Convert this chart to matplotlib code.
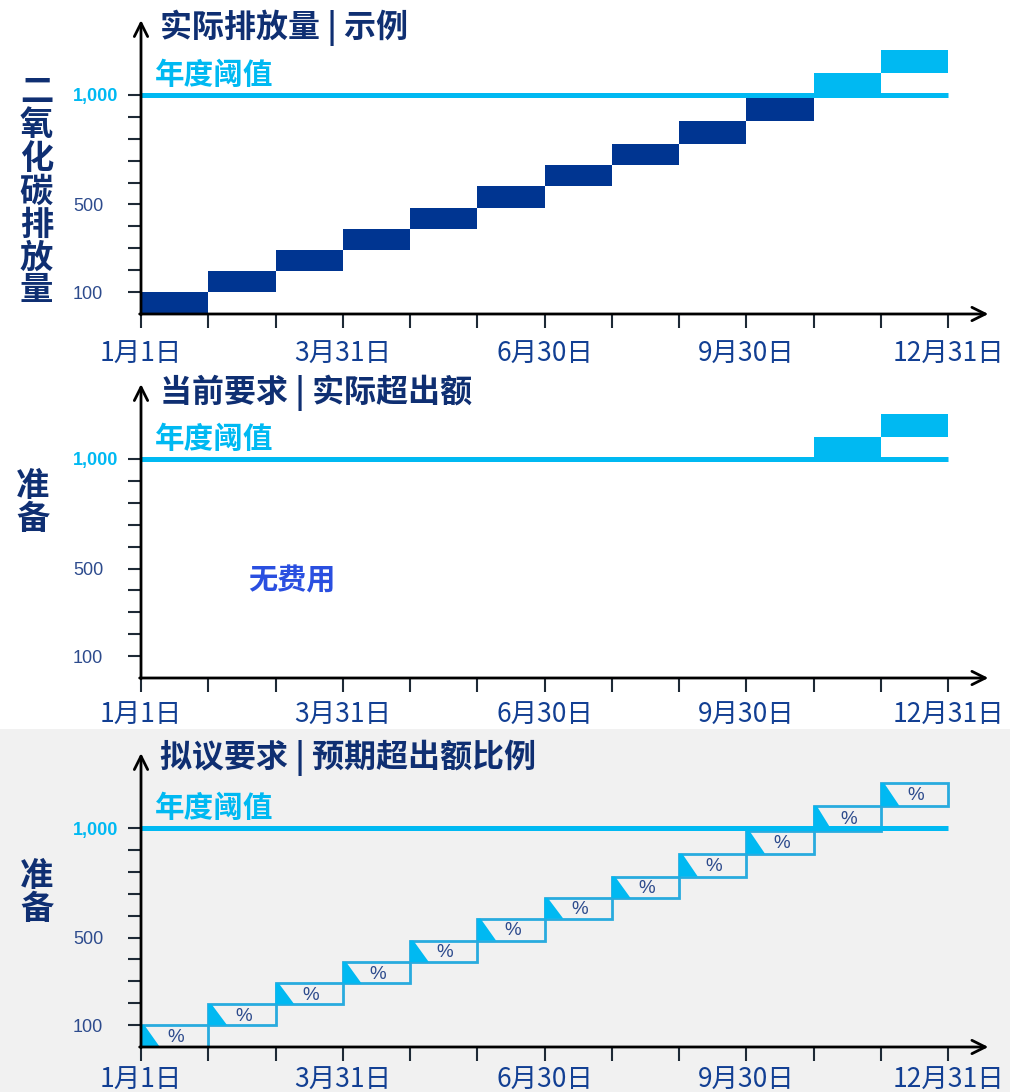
import matplotlib
matplotlib.use('Agg')
import matplotlib.pyplot as plt
from matplotlib.patches import Rectangle
import numpy as np

plt.rcParams['font.family'] = ['Noto Sans CJK SC', 'DejaVu Sans']

# === Dados (esquemáticos) ===
meses = np.arange(12)
acumulado = [0, 100, 195, 290, 388, 486, 586, 680, 778, 882, 986, 1100, 1205]
limite_anual = 1000

titulos = ['实际排放量 | 示例', '当前要求 | 实际超出额', '拟议要求 | 预期超出额比例']
rotulos_y = ['二氧化碳排放量', '准备', '准备']
rotulo_limite = '年度阈值'
texto_sem_custo = '无费用'

yticks = [100, 200, 300, 400, 500, 600, 700, 800, 900, 1000]
ytick_labels = ['100', '', '', '', '500', '', '', '', '', '1,000']
xticks = np.arange(13)
xtick_labels = ['1月1日', '', '', '3月31日', '', '', '6月30日', '', '', '9月30日', '', '', '12月31日']

# === Cores ===
azul_escuro = '#003591'
azul_claro = '#00b9f2'
azul_titulo = '#0f2f72'
azul_tick = '#2d4b8d'
azul_xlabel = '#123f93'
azul_texto = '#2a4fe0'
cinza_fundo = '#f1f1f1'

W, H = 1010, 1092
fig = plt.figure(figsize=(W / 100, H / 100), dpi=100)
fig.patch.set_facecolor('white')
fig.patches.append(Rectangle((0, 0), 1, (H - 729) / H, transform=fig.transFigure,
                             facecolor=cinza_fundo, edgecolor='none', zorder=-5))

px_x = 67.25       # pixels por mês
px_y = 0.219       # pixels por unidade
x_max = 12.65
y_max = 1345
eixo_px = [314, 678, 1047]   # posição do eixo x de cada painel (px a partir do topo)
titulo_y = [1306, 1301, 1322]
ylabel_pos = [(36.5, 192), (33, 503), (37, 893)]
xlabel_pad = [9, 7.5, 4.5]

bottoms = np.array(acumulado[:-1])
tops = np.array(acumulado[1:])


def montar_eixo(i):
    ax = fig.add_axes([141 / W, (H - eixo_px[i]) / H, x_max * px_x / W, y_max * px_y / H])
    ax.set_zorder(2)
    ax.set_xlim(0, x_max)
    ax.set_ylim(0, y_max)
    ax.patch.set_alpha(0)
    for s in ax.spines.values():
        s.set_visible(False)

    # eixos com setas
    seta = dict(arrowstyle='->', lw=2.0, color='black', mutation_scale=24, shrinkA=0, shrinkB=0)
    ax.annotate('', xy=(12.6, 0), xytext=(-0.02, 0), arrowprops=seta, annotation_clip=False, zorder=6)
    ax.annotate('', xy=(0, 1342), xytext=(0, -4), arrowprops=seta, annotation_clip=False, zorder=6)

    ax.set_yticks(yticks)
    ax.set_yticklabels(ytick_labels, fontfamily='Liberation Sans', fontsize=13)
    ax.tick_params(axis='y', direction='out', length=9.4, width=1.5, color='#1e2a36', pad=39.6)
    for lab in ax.get_yticklabels():
        lab.set_ha('left')
        if lab.get_text() == '1,000':
            lab.set_color(azul_claro)
            lab.set_fontweight('bold')
        else:
            lab.set_color(azul_tick)

    ax.set_xticks(xticks)
    ax.set_xticklabels(xtick_labels, fontsize=19, color=azul_xlabel)
    ax.tick_params(axis='x', direction='out', length=10, width=1.5, color='#1e2a36',
                   pad=xlabel_pad[i])

    # limite anual
    ax.plot([0, 12], [limite_anual, limite_anual], color=azul_claro, lw=3.6,
            solid_capstyle='butt', zorder=4)
    ax.text(0.21, 1093, rotulo_limite, color=azul_claro, fontsize=21.3, fontweight='bold',
            va='center', ha='left')
    ax.text(0.28, titulo_y[i], titulos[i], color=azul_titulo, fontsize=23, fontweight='bold',
            va='center', ha='left', clip_on=False)

    xc, yc = ylabel_pos[i]
    fig.text(xc / W, 1 - yc / H, '\n'.join(rotulos_y[i]), color=azul_titulo, fontsize=24,
             fontweight='bold', ha='center', va='center', linespacing=1.0)
    return ax


# === Painel 1: emissões reais ===
ax1 = montar_eixo(0)
cores = [azul_claro if t > limite_anual and b >= limite_anual - 20 else azul_escuro
         for b, t in zip(bottoms, tops)]
ax1.bar(meses, tops - bottoms, bottom=bottoms, width=1, align='edge', color=cores,
        edgecolor='none', zorder=3)

# === Painel 2: excedente real ===
ax2 = montar_eixo(1)
excede = tops > limite_anual
b2 = np.maximum(bottoms[excede], limite_anual)
ax2.bar(meses[excede], tops[excede] - b2, bottom=b2, width=1, align='edge',
        color=azul_claro, edgecolor='none', zorder=3)
ax2.text(2.24, 443, texto_sem_custo, color=azul_texto, fontsize=21, fontweight='bold',
         ha='center', va='center')

# === Painel 3: percentual esperado ===
ax3 = montar_eixo(2)
ax3.bar(meses, tops - bottoms, bottom=bottoms, width=1, align='edge', facecolor='none',
        edgecolor='#29abde', lw=2.0, zorder=3)
for m, b, t in zip(meses, bottoms, tops):
    ax3.fill([m, m + 0.05, m + 0.28, m], [t, t, b, b], color=azul_claro, lw=0, zorder=3)
    ax3.text(m + 0.52, (b + t) / 2 - 6, '%', color=azul_tick, fontsize=13.5,
             fontfamily='Liberation Sans', ha='center', va='center', zorder=5)

plt.savefig('out.png', dpi=100)
